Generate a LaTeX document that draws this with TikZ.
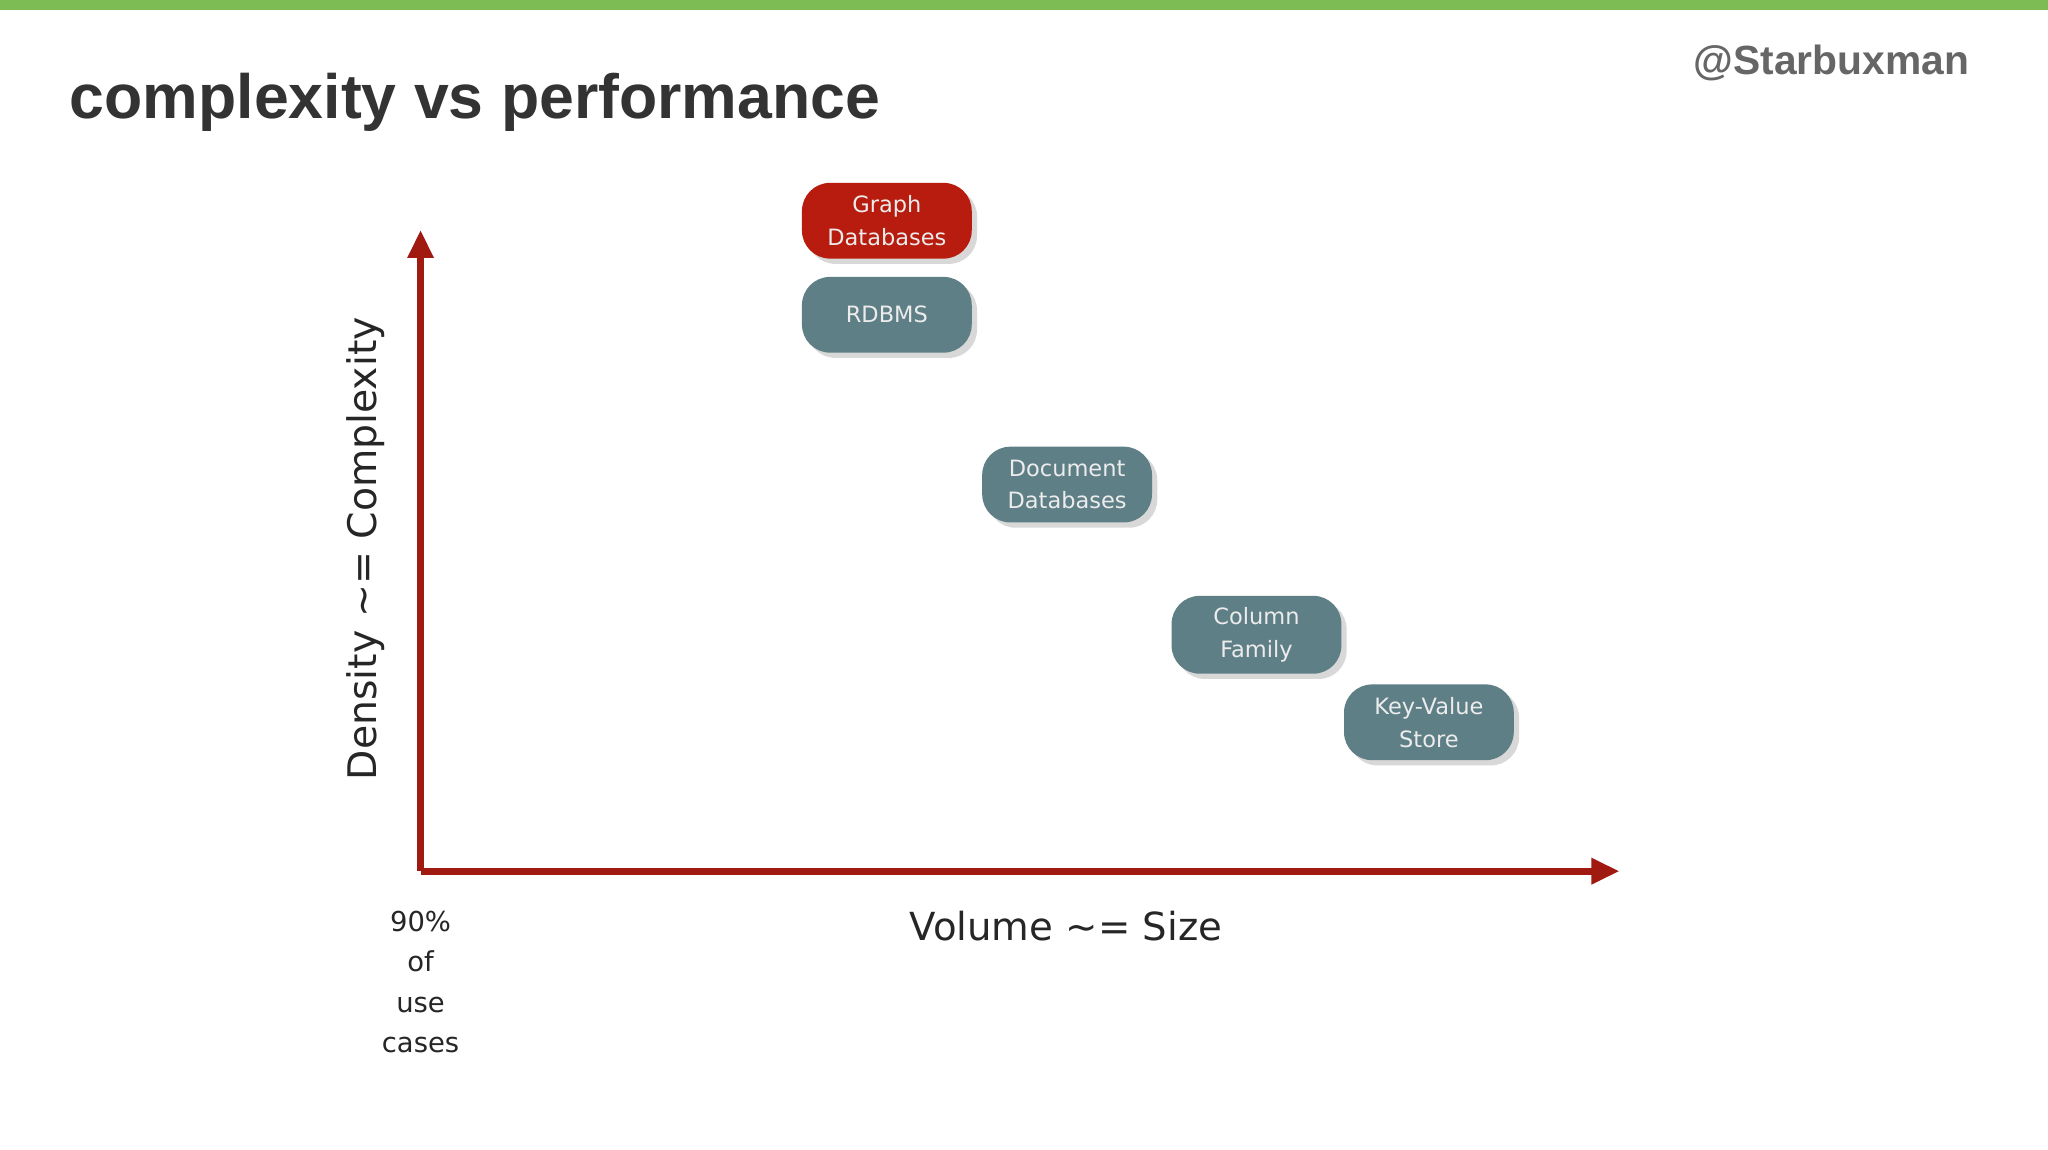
\documentclass[tikz,border=0pt]{standalone}
\usepackage{fontspec}
\setmainfont{DejaVu Sans}
\newfontfamily\arialf{Liberation Sans}
\usetikzlibrary{shadows,arrows.meta}
\definecolor{barg}{HTML}{7DBB55}
\definecolor{axred}{HTML}{A01A12}
\definecolor{boxg}{HTML}{5F7F86}
\definecolor{boxr}{HTML}{B81C0E}
\definecolor{txt}{HTML}{333333}
\newlength\unitpx \setlength\unitpx{0.013061cm}
\tikzset{
 db/.style={rounded corners=8pt, minimum width=130\unitpx, minimum height=58\unitpx, align=center, text=white!85!gray, font=\fontsize{6.4}{9.3}\selectfont, drop shadow={shadow xshift=1.5pt,shadow yshift=-1.5pt,opacity=0.3}},
 ax/.style={axred, line width=2pt, -{Triangle[length=8pt,width=7pt]}},
 lbl/.style={text=black!85, font=\fontsize{11.2}{13}\selectfont}
}
\begin{document}
\begin{tikzpicture}[x=0.013061cm,y=-0.013061cm]
\useasboundingbox (0,0) rectangle (1568,880);
\fill[white] (0,0) rectangle (1568,880);
\fill[barg] (0,0) rectangle (1568,8);
\node[anchor=west, inner sep=0pt, text=txt, font=\arialf\bfseries\fontsize{17.8}{20}\selectfont] (title) at (53,78) {complexity vs performance};
\node[anchor=east, inner sep=0pt, text=black!60, font=\arialf\bfseries\fontsize{11.6}{14}\selectfont] (handle) at (1508,48) {@Starbuxman};
\coordinate (o) at (322,667);
\coordinate (ytop) at (322,176);
\coordinate (xend) at (1240,667);
\draw[ax] (o) -- (ytop);
\draw[ax] (o) -- (xend);
\node[lbl, rotate=90] (ylab) at (280,420) {Density \textasciitilde= Complexity};
\node[lbl, font=\fontsize{11}{13}\selectfont] (xlab) at (816,709) {Volume \textasciitilde= Size};
\node[lbl, align=center, font=\fontsize{7.8}{11.5}\selectfont, anchor=north, inner sep=0pt] (pct) at (322,697) {90\%\\of\\use\\cases};
\node[db, fill=boxr] (graph) at (679,169) {Graph\\Databases};
\node[db, fill=boxg] (rdbms) at (679,241) {RDBMS};
\node[db, fill=boxg] (doc) at (817,371) {Document\\Databases};
\node[db, fill=boxg] (col) at (962,486) {Column\\Family};
\node[db, fill=boxg] (kv) at (1094,553) {Key-Value\\Store};
\end{tikzpicture}
\end{document}
